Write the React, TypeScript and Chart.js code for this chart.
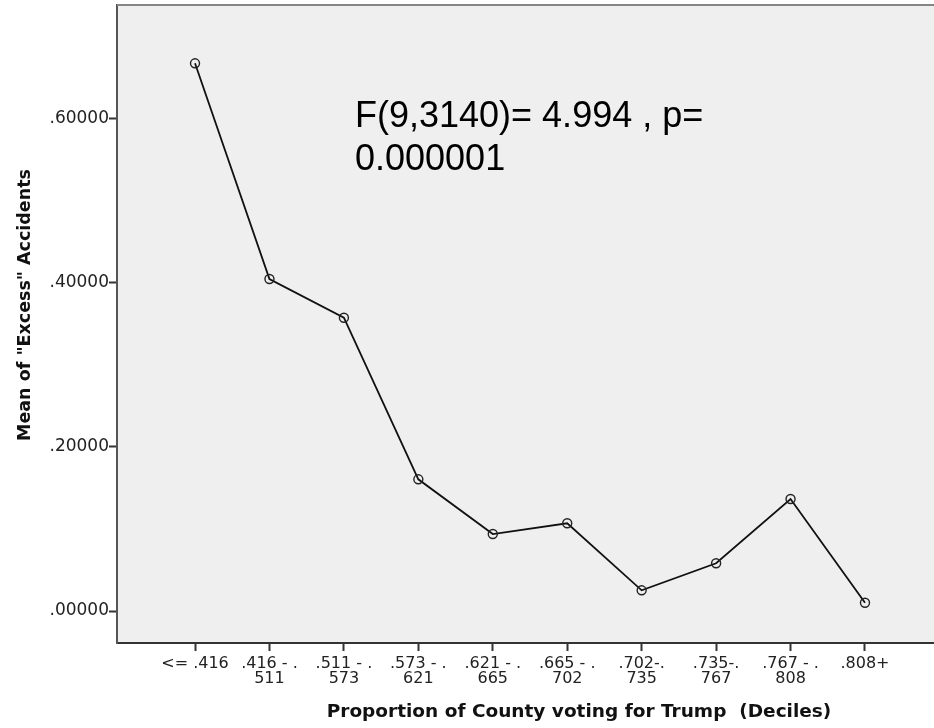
import React, { useEffect, useRef } from "react";
import { Chart, registerables } from "chart.js";

Chart.register(...registerables);

const categoryIndex = [0, 1, 2, 3, 4, 5, 6, 7, 8, 9];
const xTickLabels: string[][] = [
  ["<= .416"],
  [".416 - .", "511"],
  [".511 - .", "573"],
  [".573 - .", "621"],
  [".621 - .", "665"],
  [".665 - .", "702"],
  [".702-.", "735"],
  [".735-.", "767"],
  [".767 - .", "808"],
  [".808+"],
];
const meanExcessAccidents = [0.6667, 0.4041, 0.357, 0.1603, 0.0937, 0.1068, 0.0252, 0.0581, 0.1363, 0.0101];
const yTickValues = [0, 0.2, 0.4, 0.6];

const xTitle = "Proportion of County voting for Trump  (Deciles)";
const yTitle = 'Mean of "Excess" Accidents';
const annotationLines = ["F(9,3140)= 4.994 , p=", "0.000001"];

const decoPlugin = {
  id: "deco",
  beforeDraw(chart: any) {
    const { ctx, chartArea } = chart;
    ctx.save();
    ctx.fillStyle = "#efefef";
    ctx.fillRect(chartArea.left, chartArea.top, chartArea.right - chartArea.left, chartArea.bottom - chartArea.top);
    ctx.restore();
  },
  afterDraw(chart: any) {
    const { ctx, chartArea } = chart;
    ctx.save();
    ctx.strokeStyle = "#858585";
    ctx.lineWidth = 2;
    ctx.beginPath();
    ctx.moveTo(chartArea.left, chartArea.top);
    ctx.lineTo(chartArea.right, chartArea.top);
    ctx.stroke();

    ctx.fillStyle = "#000";
    ctx.font = '36px "Liberation Sans", Arial, sans-serif';
    ctx.textAlign = "left";
    ctx.textBaseline = "alphabetic";
    ctx.fillText(annotationLines[0], 355, 127);
    ctx.fillText(annotationLines[1], 355, 170);

    ctx.fillStyle = "#111";
    ctx.textAlign = "center";
    ctx.textBaseline = "middle";
    ctx.font = 'bold 18.5px "DejaVu Sans", sans-serif';
    ctx.fillText(xTitle, 579, 712);

    ctx.font = 'bold 17.5px "DejaVu Sans", sans-serif';
    ctx.translate(25, 305);
    ctx.rotate(-Math.PI / 2);
    ctx.fillText(yTitle, 0, 0);
    ctx.restore();
  },
};

export default function App() {
  const ref = useRef<HTMLCanvasElement | null>(null);
  useEffect(() => {
    if (!ref.current) return;
    const chart = new Chart(ref.current, {
      type: "line",
      data: {
        datasets: [
          {
            data: categoryIndex.map((i) => ({ x: i, y: meanExcessAccidents[i] })),
            borderColor: "#111",
            borderWidth: 1.8,
            pointRadius: 4.5,
            pointBorderWidth: 1.4,
            pointBorderColor: "#222",
            pointBackgroundColor: "rgba(0,0,0,0)",
            tension: 0,
          },
        ],
      },
      options: {
        responsive: false,
        animation: false,
        devicePixelRatio: 1,
        layout: { autoPadding: false, padding: { top: 5, left: 0, right: 0, bottom: 0 } },
        plugins: { legend: { display: false }, tooltip: { enabled: false } },
        scales: {
          x: {
            type: "linear",
            min: -1.048,
            max: 9.927,
            afterBuildTicks: (s: any) => {
              s.ticks = categoryIndex.map((v) => ({ value: v }));
            },
            afterFit: (s: any) => {
              s.height = 85;
              s.paddingLeft = 0;
              s.paddingRight = 0;
            },
            ticks: {
              autoSkip: false,
              maxRotation: 0,
              minRotation: 0,
              padding: 6,
              color: "#222",
              font: { family: '"DejaVu Sans", sans-serif', size: 16, lineHeight: 0.9 },
              callback: (v: any) => xTickLabels[Math.round(Number(v))] as any,
            },
            grid: { drawOnChartArea: false, drawTicks: true, tickLength: 8, tickColor: "#333", tickWidth: 2 },
            border: { display: true, color: "#333", width: 2 },
          },
          y: {
            type: "linear",
            min: -0.03895,
            max: 0.7377,
            afterBuildTicks: (s: any) => {
              s.ticks = yTickValues.map((v) => ({ value: v }));
            },
            afterFit: (s: any) => {
              s.width = 117;
              s.paddingTop = 0;
              s.paddingBottom = 0;
            },
            ticks: {
              padding: 0,
              color: "#222",
              font: { family: '"DejaVu Sans", sans-serif', size: 17 },
              callback: (v: any) => Number(v).toFixed(5).replace(/^0/, ""),
            },
            grid: { drawOnChartArea: false, drawTicks: true, tickLength: 8, tickColor: "#333", tickWidth: 2 },
            border: { display: true, color: "#555", width: 2 },
          },
        },
      },
      plugins: [decoPlugin],
    } as any);
    return () => chart.destroy();
  }, []);
  return (
    <div style={{ position: "absolute", left: 0, top: 0, width: 934, height: 728, background: "#fff" }}>
      <canvas ref={ref} width={934} height={728} style={{ display: "block", width: 934, height: 728 }} />
    </div>
  );
}
